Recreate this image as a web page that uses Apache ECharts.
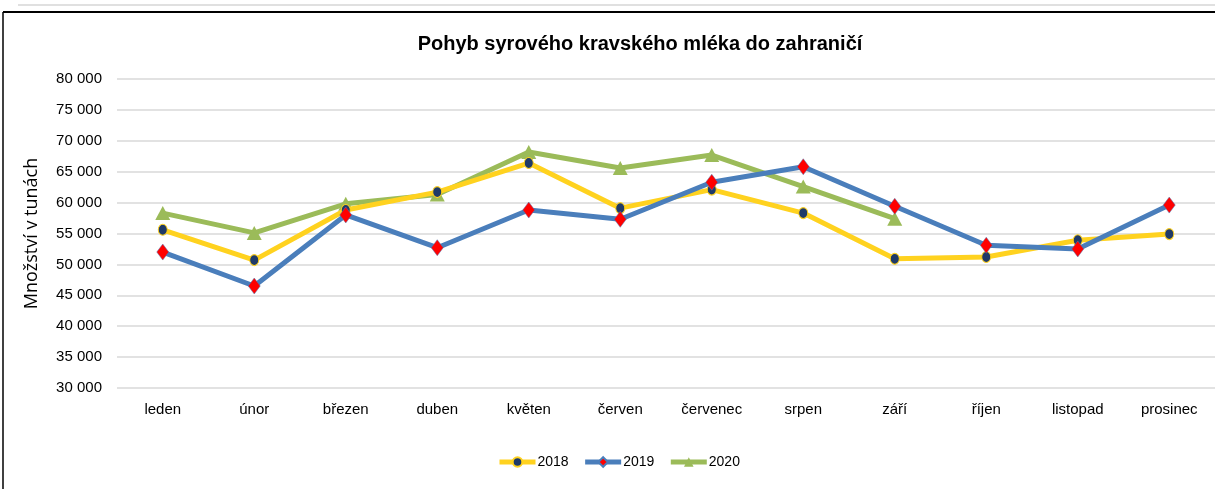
<!DOCTYPE html>
<html>
<head>
<meta charset="utf-8">
<script src="https://cdn.jsdelivr.net/npm/echarts@6/dist/echarts.min.js"></script>
<style>
  html, body { margin: 0; padding: 0; background: #fff; }
  #chart { width: 1215px; height: 489px; }
</style>
</head>
<body>
<div id="chart"></div>
<script>
// kategorie a hodnoty (tuny)
const months = ['leden', 'únor', 'březen', 'duben', 'květen', 'červen', 'červenec', 'srpen', 'září', 'říjen', 'listopad', 'prosinec']
const y2018 = [55600, 50700, 58800, 61700, 66400, 59100, 62100, 58300, 50900, 51200, 53900, 54900]
const y2019 = [52000, 46500, 58000, 52700, 58800, 57300, 63300, 65800, 59400, 53100, 52500, 59600]
const y2020 = [58300, 55100, 59800, 61300, 68200, 65600, 67700, 62600, 57400, null, null, null]
const yTicks = { min: 30000, max: 80000, step: 5000 }

const fmt = v => String(v).replace(/\B(?=(\d{3})+(?!\d))/g, ' ')
const font = '"Liberation Sans Narrow", "Liberation Sans", Arial, sans-serif'

const chart = echarts.init(document.getElementById('chart'))
const option = {
  animation: false,
  backgroundColor: '#fff',
  title: {
    text: 'Pohyb syrového kravského mléka do zahraničí',
    left: 635, top: 29, textAlign: 'center',
    textStyle: { fontFamily: font, fontSize: 20, fontWeight: 'bold', color: '#000' }
  },
  legend: {
    bottom: 15, left: 492,
    itemWidth: 36, itemHeight: 12, itemGap: 14,
    lineStyle: { width: 5 },
    textStyle: { fontFamily: font, fontSize: 14, color: '#000', padding: [0, 0, 0, -3] },
    data: ['2018', '2019', '2020']
  },
  grid: { left: 117, top: 79, bottom: 101, width: 1106 },
  xAxis: {
    type: 'category',
    data: months,
    axisLine: { show: false },
    axisTick: { show: false },
    axisLabel: { fontFamily: font, fontSize: 15, color: '#000', margin: 14 }
  },
  yAxis: {
    type: 'value',
    min: yTicks.min, max: yTicks.max, interval: yTicks.step,
    name: 'Množství v tunách',
    nameLocation: 'middle', nameGap: 76, nameRotate: 90,
    nameTextStyle: { fontFamily: 'Open Sans, sans-serif', fontSize: 18, color: '#000' },
    axisLabel: { formatter: fmt, fontFamily: font, fontSize: 15, color: '#000', margin: 15 },
    splitLine: { lineStyle: { color: '#d9d9d9', width: 1.5 } }
  },
  series: [
    {
      name: '2018', type: 'line', data: y2018,
      lineStyle: { color: '#ffd21f', width: 5 },
      itemStyle: { color: '#1f3a68', borderColor: '#ffd21f', borderWidth: 1 },
      symbol: 'circle', symbolSize: [9, 11], z: 2
    },
    {
      name: '2019', type: 'line', data: y2019,
      lineStyle: { color: '#4a7ebb', width: 5 },
      itemStyle: { color: '#ff0000', borderColor: '#4a7ebb', borderWidth: 0.5 },
      symbol: 'diamond', symbolSize: [12, 16], z: 3
    },
    {
      name: '2020', type: 'line', data: y2020,
      lineStyle: { color: '#9bbb59', width: 5 },
      itemStyle: { color: '#9bbb59' },
      symbol: 'triangle', symbolSize: [15, 14], z: 1
    }
  ],
  graphic: [
    { type: 'line', shape: { x1: 18, y1: 5, x2: 1215, y2: 5 }, style: { stroke: '#e0e0e0', lineWidth: 2 } },
    { type: 'line', shape: { x1: 3, y1: 12, x2: 1215, y2: 12 }, style: { stroke: '#000', lineWidth: 2 } },
    { type: 'line', shape: { x1: 3, y1: 12, x2: 3, y2: 489 }, style: { stroke: '#000', lineWidth: 1.5 } }
  ]
}
chart.setOption(option)
</script>
</body>
</html>
